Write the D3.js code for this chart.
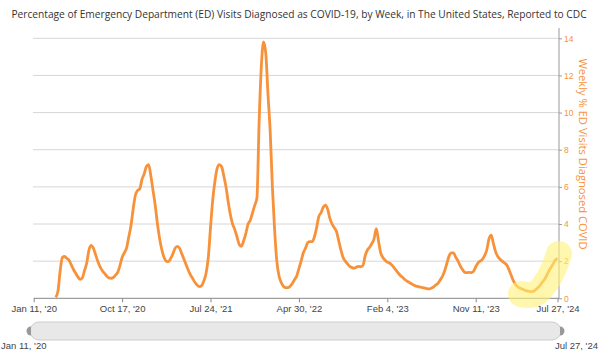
<!DOCTYPE html>
<html>
<head>
<meta charset="utf-8">
<script src="https://cdn.jsdelivr.net/npm/d3@7"></script>
<style>
  body { margin: 0; background: #fff; }
  text { font-family: "Liberation Sans", Arial, sans-serif; }
</style>
</head>
<body>
<script>
// weekly data, first week = Jan 11 2020
const startDate = "2020-01-11";
const pctValues = [
  null, null, null, null, null, null, null, null, null, null,
  0.05, 0.4, 1.5, 2.2, 2.25, 2.15, 2.05, 1.8, 1.55, 1.35,
  1.15, 1.02, 1.1, 1.5, 1.9, 2.6, 2.85, 2.7, 2.35, 2.0,
  1.7, 1.5, 1.35, 1.2, 1.1, 1.08, 1.12, 1.25, 1.4, 1.75,
  2.2, 2.45, 2.7, 3.3, 3.9, 4.8, 5.55, 5.8, 5.9, 6.4,
  6.7, 7.1, 7.2, 6.6, 5.8, 5.0, 4.0, 3.2, 2.6, 2.2,
  2.0, 1.97, 2.15, 2.4, 2.7, 2.8, 2.7, 2.4, 2.1, 1.8,
  1.5, 1.25, 1.05, 0.85, 0.7, 0.63, 0.68, 0.95, 1.35, 2.2,
  3.8, 5.3, 6.3, 7.0, 7.2, 7.1, 6.6, 6.0, 5.2, 4.5,
  4.0, 3.7, 3.3, 2.9, 2.8, 3.1, 3.5, 4.0, 4.2, 4.6,
  5.0, 5.4, 9.5, 12.5, 13.8, 13.2, 11.0, 9.0, 6.0, 3.7,
  2.0, 1.2, 0.85, 0.65, 0.57, 0.57, 0.65, 0.8, 1.0, 1.2,
  1.6, 2.0, 2.45, 2.7, 3.0, 3.05, 3.05, 3.3, 3.8, 4.4,
  4.6, 4.9, 5.02, 4.8, 4.3, 4.0, 3.8, 3.6, 3.1, 2.6,
  2.2, 2.0, 1.85, 1.72, 1.65, 1.62, 1.68, 1.72, 1.7, 1.78,
  2.3, 2.6, 2.75, 2.95, 3.2, 3.75, 3.1, 2.45, 2.2, 2.05,
  1.95, 1.9, 1.8, 1.65, 1.5, 1.35, 1.22, 1.12, 1.0, 0.92,
  0.85, 0.78, 0.7, 0.66, 0.63, 0.6, 0.58, 0.55, 0.52, 0.5,
  0.55, 0.62, 0.72, 0.82, 1.0, 1.2, 1.5, 1.9, 2.3, 2.45,
  2.45, 2.2, 2.0, 1.75, 1.55, 1.4, 1.38, 1.4, 1.38, 1.45,
  1.7, 1.9, 2.0, 2.1, 2.3, 2.6, 3.2, 3.4, 2.95, 2.5,
  2.25, 2.1, 2.0, 1.9, 1.8, 1.55, 1.25, 0.95, 0.75, 0.62,
  0.55, 0.5, 0.45, 0.4, 0.38, 0.36, 0.37, 0.45, 0.55, 0.68,
  0.85, 1.0, 1.2, 1.45, 1.65, 1.85, 2.05, 2.15
];
const xTickDates = ["2020-01-11", "2020-10-17", "2021-07-24", "2022-04-30", "2023-02-04", "2023-11-11", "2024-07-27"];
const yTicks = [0, 2, 4, 6, 8, 10, 12, 14];

const title = "Percentage of Emergency Department (ED) Visits Diagnosed as COVID-19, by Week, in The United States, Reported to CDC";
const yTitle = "Weekly % ED Visits Diagnosed COVID";
const orange = "#f7923a";

const W = 600, H = 352;
const parse = d3.timeParse("%Y-%m-%d");
const fmt = d3.timeFormat("%b %-d, '%y");
const t0 = parse(startDate);
const data = pctValues.map((v, i) => ({ date: d3.timeWeek.offset(t0, i), v: v }));

const svg = d3.select("body").append("svg")
  .attr("width", W)
  .attr("height", H);

const x = d3.scaleTime()
  .domain([parse(xTickDates[0]), parse(xTickDates[xTickDates.length - 1])])
  .range([33.7, 557.5]);
const y = d3.scaleLinear()
  .domain([0, 14])
  .range([298.3, 38.3]);

// title
svg.append("text")
  .attr("x", 299)
  .attr("y", 18)
  .attr("text-anchor", "middle")
  .style("font-family", "'Open Sans', sans-serif")
  .style("font-size", "10.2px")
  .style("fill", "#333")
  .text(title);

// grid lines
svg.append("g")
  .selectAll("line")
  .data(yTicks.filter(d => d > 0))
  .enter()
  .append("line")
  .attr("x1", 33)
  .attr("x2", 559)
  .attr("y1", d => y(d))
  .attr("y2", d => y(d))
  .style("stroke", "#d6d6d6")
  .style("stroke-width", 1);

// right axis
const yAxis = svg.append("g")
  .attr("transform", "translate(559,0)")
  .call(d3.axisRight(y).tickValues(yTicks).tickSize(3).tickPadding(2));
yAxis.select(".domain").attr("d", "M0,28V298.3").style("stroke", "#999");
yAxis.selectAll(".tick line").style("stroke", "#999");
yAxis.selectAll("text")
  .style("fill", orange)
  .style("font-size", "8.5px");

svg.append("text")
  .attr("transform", "translate(579,154) rotate(90)")
  .attr("text-anchor", "middle")
  .style("font-family", "'Open Sans', sans-serif")
  .style("font-size", "11.2px")
  .style("fill", orange)
  .text(yTitle);

// bottom axis
const xAxis = svg.append("g")
  .attr("transform", "translate(0,298.3)")
  .call(d3.axisBottom(x).tickValues(xTickDates.map(parse)).tickFormat(fmt).tickSize(4).tickPadding(3));
xAxis.select(".domain").attr("d", "M33.7,0H559").style("stroke", "#888");
xAxis.selectAll(".tick line").style("stroke", "#888");
xAxis.selectAll("text")
  .style("fill", "#444")
  .style("font-size", "9.5px");

// the line
const line = d3.line()
  .defined(d => d.v != null)
  .x(d => x(d.date))
  .y(d => y(d.v))
  .curve(d3.curveMonotoneX);

svg.append("path")
  .datum(data)
  .attr("d", line)
  .style("fill", "none")
  .style("stroke", orange)
  .style("stroke-width", 2.8)
  .style("stroke-linejoin", "round");

// highlighter mark
svg.append("path")
  .attr("d", d3.line().curve(d3.curveCatmullRom)([[521, 294], [535, 294], [549, 278], [559, 254]]))
  .style("fill", "none")
  .style("stroke", "#fff176")
  .style("stroke-opacity", 0.6)
  .style("stroke-width", 26)
  .style("stroke-linecap", "round")
  .style("stroke-linejoin", "round");

// navigator
const nav = svg.append("g");
nav.append("rect")
  .attr("x", 30)
  .attr("y", 322)
  .attr("width", 531)
  .attr("height", 18)
  .attr("rx", 9)
  .style("fill", "#e8e8e8")
  .style("stroke", "#ccc");
nav.append("path")
  .attr("d", "M31,326.5 A4.5,4.5 0 0 0 31,335.5 Z")
  .style("fill", "#999");
nav.append("path")
  .attr("d", "M560,326.5 A4.5,4.5 0 0 1 560,335.5 Z")
  .style("fill", "#999");
nav.append("text")
  .attr("x", 1)
  .attr("y", 349)
  .style("font-size", "9.5px")
  .style("fill", "#444")
  .text(fmt(parse(xTickDates[0])));
nav.append("text")
  .attr("x", 598)
  .attr("y", 349)
  .attr("text-anchor", "end")
  .style("font-size", "9.5px")
  .style("fill", "#444")
  .text(fmt(parse(xTickDates[xTickDates.length - 1])));

svg.append("circle")
  .attr("cx", 601)
  .attr("cy", 361)
  .attr("r", 8)
  .style("fill", "#1d6f8c");
</script>
</body>
</html>
